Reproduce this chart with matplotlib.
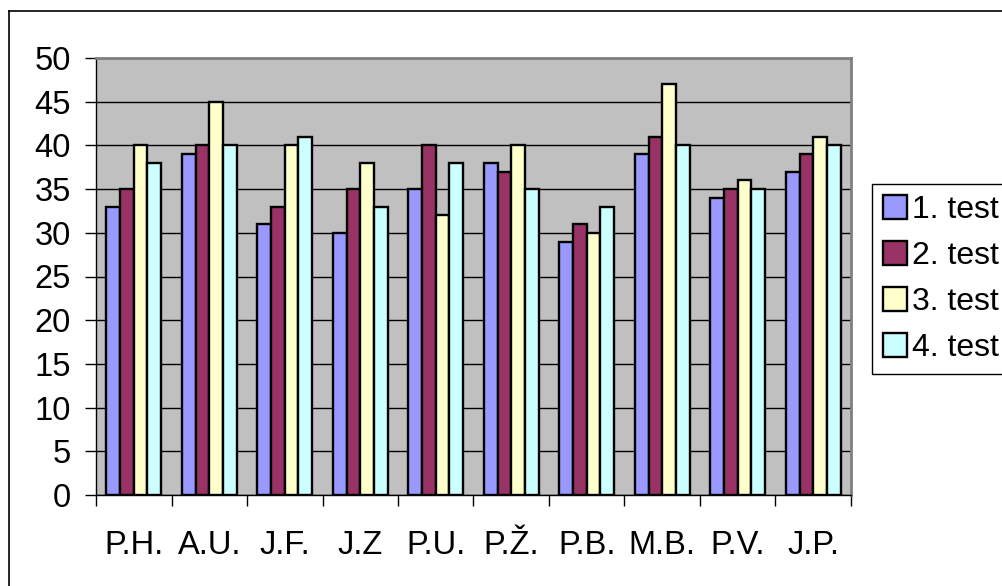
import matplotlib
matplotlib.use("Agg")
import matplotlib.pyplot as plt
import numpy as np
from matplotlib.lines import Line2D

categories = ["P.H.", "A.U.", "J.F.", "J.Z", "P.U.", "P.Ž.", "P.B.", "M.B.", "P.V.", "J.P."]
series_names = ["1. test", "2. test", "3. test", "4. test"]
test1 = [33, 39, 31, 30, 35, 38, 29, 39, 34, 37]
test2 = [35, 40, 33, 35, 40, 37, 31, 41, 35, 39]
test3 = [40, 45, 40, 38, 32, 40, 30, 47, 36, 41]
test4 = [38, 40, 41, 33, 38, 35, 33, 40, 35, 40]
colors = ["#9999FF", "#993366", "#FFFFCC", "#CCFFFF"]

plt.rcParams['font.family'] = ['Liberation Sans', 'DejaVu Sans']

W, H = 1003, 586
fig = plt.figure(figsize=(W / 100, H / 100), dpi=100)
fig.patch.set_facecolor("white")

# outer chart border (top and left visible)
fig.add_artist(Line2D([9.5 / W, 1.0], [1 - 10.5 / H, 1 - 10.5 / H], color="black", lw=1.2, transform=fig.transFigure))
fig.add_artist(Line2D([9.5 / W, 9.5 / W], [0, 1 - 10.5 / H], color="black", lw=1.2, transform=fig.transFigure))

left, right, top, bottom = 96, 851, 58, 495
ax = fig.add_axes([left / W, (H - bottom) / H, (right - left) / W, (bottom - top) / H])
ax.set_facecolor("#C0C0C0")

data = [test1, test2, test3, test4]
n = len(categories)
x = np.arange(n)
bw = 0.728 / 4
for i, (vals, c, name) in enumerate(zip(data, colors, series_names)):
    ax.bar(x - 0.364 + bw * (i + 0.5), vals, width=bw, color=c, edgecolor="black",
           linewidth=1.7, label=name, zorder=3)

ax.set_xlim(-0.5, n - 0.5)
ax.set_ylim(0, 50)
ax.set_yticks(np.arange(0, 51, 5))
ax.yaxis.grid(True, color="black", linewidth=1.0, zorder=1)
ax.set_axisbelow(True)

ax.set_xticks(x)
ax.set_xticklabels(categories)
ax.set_xticks(np.arange(-0.5, n, 1.0), minor=True)
ax.tick_params(axis="x", which="major", length=0, pad=25, labelsize=23.5)
ax.tick_params(axis="x", which="minor", length=8, width=1, color="black", direction="out")
ax.tick_params(axis="y", length=8, width=1, color="black", direction="out", pad=10, labelsize=23.5)

for s in ["top", "right"]:
    ax.spines[s].set_color("#808080")
    ax.spines[s].set_linewidth(2)
for s in ["left", "bottom"]:
    ax.spines[s].set_color("black")
    ax.spines[s].set_linewidth(1)

leg = fig.legend(loc="upper left", bbox_to_anchor=(872 / W, 1 - 184 / H), fontsize=23,
                 frameon=True, fancybox=False, edgecolor="black", framealpha=1,
                 handlelength=0.75, handleheight=0.75, handletextpad=0.15,
                 labelspacing=0.5, borderpad=0.35, borderaxespad=0)
leg.get_frame().set_linewidth(1)

fig.savefig("out.png", dpi=100)
